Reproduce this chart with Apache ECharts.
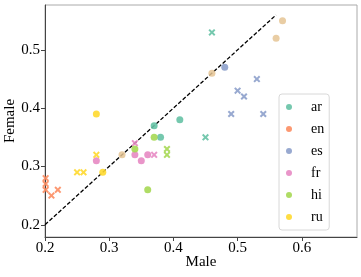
<!DOCTYPE html>
<html><head><meta charset="utf-8">
<script src="https://cdn.jsdelivr.net/npm/echarts@6/dist/echarts.min.js"></script>
<style>html,body{margin:0;padding:0;background:#fff}#c{width:361px;height:277px}</style>
</head><body><div id="c"></div>
<script>
const languages = ['ar','en','es','fr','hi','ru'];
const colors = ['#66c2a5','#fc8d62','#8da0cb','#e78ac3','#a6d854','#ffd92f'];
const extraColor = '#e5c494';
// [male, female]
const arCircle = [[0.37,0.37],[0.38,0.35],[0.41,0.38]];
const arCross  = [[0.46,0.53],[0.45,0.35]];
const enCircle = [];
const enCross  = [[0.201,0.28],[0.201,0.27],[0.201,0.26],[0.21,0.25],[0.22,0.26]];
const esCircle = [[0.48,0.47]];
const esCross  = [[0.53,0.45],[0.50,0.43],[0.51,0.42],[0.49,0.39],[0.54,0.39]];
const frCircle = [[0.34,0.32],[0.36,0.32],[0.35,0.31],[0.28,0.31]];
const frCross  = [[0.34,0.34],[0.37,0.32]];
const hiCircle = [[0.37,0.35],[0.34,0.33],[0.36,0.26]];
const hiCross  = [[0.39,0.33],[0.39,0.32]];
const ruCircle = [[0.28,0.39],[0.29,0.29]];
const ruCross  = [[0.28,0.32],[0.25,0.29],[0.26,0.29]];
const extraCircle = [[0.57,0.55],[0.56,0.52],[0.46,0.46],[0.32,0.32]];
const diagonal = [[0.2,0.2],[0.56,0.56]];
const xTicks = [0.2,0.3,0.4,0.5,0.6];
const yTicks = [0.2,0.3,0.4,0.5];

const circles = [arCircle,enCircle,esCircle,frCircle,hiCircle,ruCircle];
const crosses = [arCross,enCross,esCross,frCross,hiCross,ruCross];
const crossPath = 'path://M2,0 L5,3 L8,0 L10,2 L7,5 L10,8 L8,10 L5,7 L2,10 L0,8 L3,5 L0,2 Z';
const FONT = 'Liberation Serif';

const series = [{
  type:'line', data: diagonal, symbol:'none', silent:true, z:1,
  lineStyle:{color:'#000', width:1.3, type:[4,2]}
}];
languages.forEach((lang,i)=>{
  series.push({type:'scatter', name:lang, data:circles[i], symbol:'circle', symbolSize:7, z:3,
    itemStyle:{color:colors[i], opacity:0.9}});
  series.push({type:'scatter', name:lang, data:crosses[i], symbol:crossPath, symbolSize:7, z:3,
    itemStyle:{color:colors[i], opacity:0.9}});
});
series.push({type:'scatter', name:'other', data:extraCircle, symbol:'circle', symbolSize:7, z:3,
  itemStyle:{color:extraColor, opacity:0.85}});

const chart = echarts.init(document.getElementById('c'), null, {renderer:'canvas'});
chart.setOption({
  animation:false,
  grid:{left:45, right:4, top:5, bottom:40, show:true, borderColor:'#aaa', borderWidth:1,
    containLabel:false, outerBoundsMode:'none'},
  legend:{
    data: languages, orient:'vertical', left:279, top:94,
    icon:'circle', itemWidth:30, itemHeight:6, itemGap:8,
    padding:[6,5,6,7], borderColor:'#d8d8d8', borderWidth:1, borderRadius:3,
    textStyle:{fontFamily:FONT, fontSize:14, color:'#000', lineHeight:14, padding:[0,0,0,2]}
  },
  xAxis:{
    type:'value', min:0.2, max:0.686, name:'Male', nameLocation:'middle', nameGap:18,
    nameMoveOverlap:false,
    nameTextStyle:{fontFamily:FONT, fontSize:15, color:'#000'},
    axisLine:{lineStyle:{color:'#444'}},
    axisTick:{show:true, length:4, lineStyle:{color:'#444'}, customValues:xTicks},
    axisLabel:{fontFamily:FONT, fontSize:15, color:'#000', margin:4, customValues:xTicks,
      formatter:v=>v.toFixed(1)},
    splitLine:{show:false}
  },
  yAxis:{
    type:'value', min:0.179, max:0.577, name:'Female', nameLocation:'middle', nameGap:27,
    nameMoveOverlap:false,
    nameTextStyle:{fontFamily:FONT, fontSize:15, color:'#000'},
    axisLine:{show:true, lineStyle:{color:'#444'}},
    axisTick:{show:true, length:4, lineStyle:{color:'#444'}, customValues:yTicks},
    axisLabel:{fontFamily:FONT, fontSize:15, color:'#000', margin:5, customValues:yTicks,
      formatter:v=>v.toFixed(1)},
    splitLine:{show:false}
  },
  series: series
});
</script></body></html>
